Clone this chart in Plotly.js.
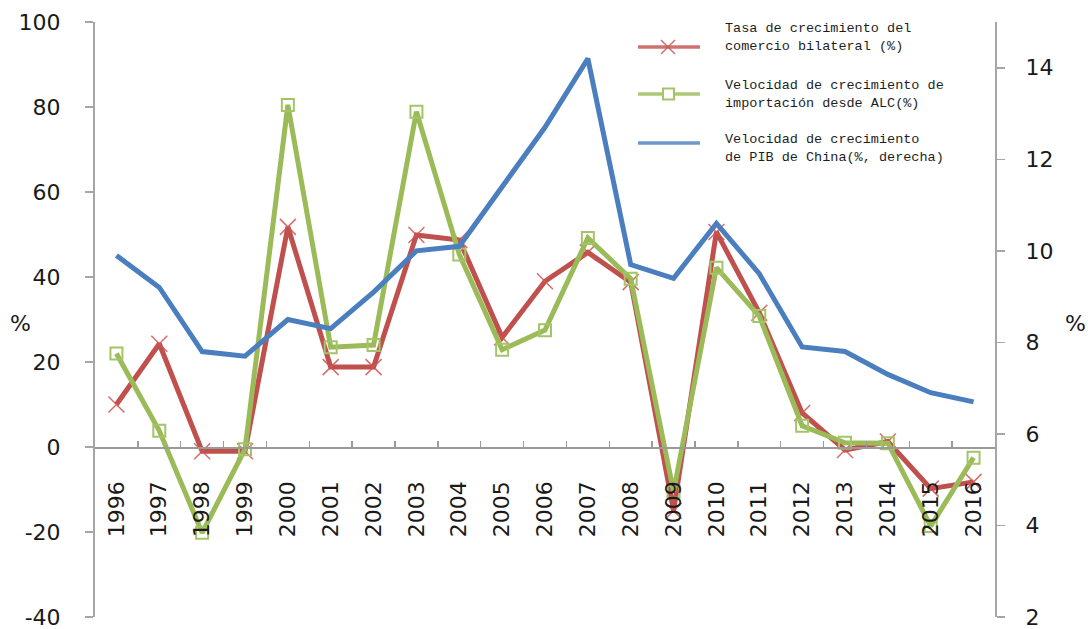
<!DOCTYPE html>
<html>
<head>
<meta charset="utf-8">
<script src="https://cdn.plot.ly/plotly-3.0.1.min.js"></script>
<style>html,body{margin:0;padding:0;background:#fff;}#chart{width:1088px;height:629px;}</style>
</head>
<body>
<div id="chart"></div>
<script>
// ---- data ----
var years = ["1996","1997","1998","1999","2000","2001","2002","2003","2004","2005","2006","2007","2008","2009","2010","2011","2012","2013","2014","2015","2016"];
var comercioBilateral = [10, 24.3, -1, -1, 51.8, 18.8, 18.8, 49.9, 48.7, 25.8, 39, 45.8, 38.8, -15, 50.6, 31.6, 8, -0.7, 1.3, -9.8, -8.2];
var importacionALC = [22, 3.8, -20.2, -0.5, 80.5, 23.5, 24, 78.9, 45.3, 22.9, 27.5, 49.2, 39.6, -10.5, 42.2, 30.8, 5, 1, 0.9, -18.6, -2.5];
var pibChina = [9.9, 9.2, 7.8, 7.7, 8.5, 8.3, 9.1, 10.0, 10.1, 11.4, 12.7, 14.2, 9.7, 9.4, 10.6, 9.5, 7.9, 7.8, 7.3, 6.9, 6.7];
var names = ["Tasa de crecimiento del<br>comercio bilateral (%)",
             "Velocidad de crecimiento de<br>importación desde ALC(%)",
             "Velocidad de crecimiento<br>de PIB de China(%, derecha)"];
var leftTickVals = [-40, -20, 0, 20, 40, 60, 80, 100];
var leftTickText = ["-40", "-20", "0", "20", "40", "60", "80", "100"];
var rightTickVals = [2, 4, 6, 8, 10, 12, 14];
var rightTickText = ["2", "4", "6", "8", "10", "12", "14"];

// ---- styling / layout ----
var RED = "#C0504D", GREEN = "#9BBB59", BLUE = "#4A7EBF";
var L = 95, R = 995, T = 22, B = 617;
function px(x){ return (x - L) / (R - L); }
function py(y){ return (B - y) / (B - T); }

var tickFont = {family: "DejaVu Sans", size: 22, color: "#1a1a1a"};
var legFont = {family: "Liberation Mono", size: 13.5, color: "#1e1e1e"};

var traces = [
  {x: years, y: comercioBilateral, name: names[0], type: "scatter", mode: "lines+markers",
   line: {color: RED, width: 5},
   marker: {symbol: "x-thin-open", size: 16, color: "rgba(205,85,82,0.85)", line: {width: 1.5, color: "rgba(205,85,82,0.85)"}},
   showlegend: false},
  {x: years, y: importacionALC, name: names[1], type: "scatter", mode: "lines+markers",
   line: {color: GREEN, width: 5},
   marker: {symbol: "square-open", size: 12, color: "#A4C468", line: {width: 2, color: "#A4C468"}},
   showlegend: false},
  {x: years, y: pibChina, name: names[2], type: "scatter", mode: "lines", yaxis: "y2",
   line: {color: BLUE, width: 5}, showlegend: false}
];

var shapes = [];
var annotations = [];
// manual legend
var legY = [47, 94, 143];
var legTextY = [37, 94, 148];
var legColors = [RED, GREEN, BLUE];
for (var i = 0; i < 3; i++) {
  shapes.push({type: "line", xref: "paper", yref: "paper",
    x0: px(638), x1: px(700), y0: py(legY[i]), y1: py(legY[i]),
    line: {color: legColors[i], width: 3.5}, opacity: 0.8});
  annotations.push({xref: "paper", yref: "paper", x: px(723), y: py(legTextY[i]),
    xanchor: "left", yanchor: "middle", align: "left", showarrow: false,
    text: names[i], font: legFont});
}
// legend marker glyphs
shapes.push({type: "line", xref: "paper", yref: "paper", x0: px(661), x1: px(675), y0: py(40), y1: py(54), line: {color: "rgba(205,85,82,0.85)", width: 1.5}});
shapes.push({type: "line", xref: "paper", yref: "paper", x0: px(661), x1: px(675), y0: py(54), y1: py(40), line: {color: "rgba(205,85,82,0.85)", width: 1.5}});
shapes.push({type: "rect", xref: "paper", yref: "paper", x0: px(663), x1: px(674), y0: py(88.5), y1: py(99.5), fillcolor: "#ffffff", line: {color: "#A4C468", width: 2}});

// % labels
annotations.push({xref: "paper", yref: "paper", x: px(20), y: py(323), xanchor: "center", yanchor: "middle", showarrow: false, text: "%", font: tickFont});
annotations.push({xref: "paper", yref: "paper", x: px(1075), y: py(323), xanchor: "center", yanchor: "middle", showarrow: false, text: "%", font: tickFont});

var layout = {
  width: 1088, height: 629,
  margin: {l: L, r: 1088 - R, t: T, b: 629 - B, pad: 0},
  paper_bgcolor: "#ffffff", plot_bgcolor: "#ffffff",
  showlegend: false,
  xaxis: {type: "category", anchor: "free", position: 40 / 140,
    range: [-0.5, 20.5], showgrid: false, zeroline: false,
    showline: true, linecolor: "#9a9a9a", linewidth: 1.5,
    ticks: "inside", ticklen: 6, tickwidth: 1.5, tickcolor: "#9a9a9a", tickson: "boundaries",
    tickangle: -90, tickfont: tickFont, ticklabelstandoff: 24, automargin: false},
  yaxis: {range: [-40, 100], tickmode: "array", tickvals: leftTickVals, ticktext: leftTickText,
    showgrid: false, zeroline: false,
    showline: true, linecolor: "#a6a6a6", linewidth: 2,
    ticks: "outside", ticklen: 8, tickwidth: 1.5, tickcolor: "#a6a6a6",
    tickfont: tickFont, ticklabelstandoff: 20, ticklabeloverflow: "allow", automargin: false},
  yaxis2: {range: [2, 15], tickmode: "array", tickvals: rightTickVals, ticktext: rightTickText,
    overlaying: "y", side: "right",
    showgrid: false, zeroline: false,
    showline: true, linecolor: "#a6a6a6", linewidth: 2,
    ticks: "outside", ticklen: 8, tickwidth: 1.5, tickcolor: "#a6a6a6",
    tickfont: tickFont, ticklabelstandoff: 16, ticklabeloverflow: "allow", automargin: false},
  shapes: shapes,
  annotations: annotations
};

Plotly.newPlot("chart", traces, layout, {displayModeBar: false, staticPlot: true});
</script>
</body>
</html>
